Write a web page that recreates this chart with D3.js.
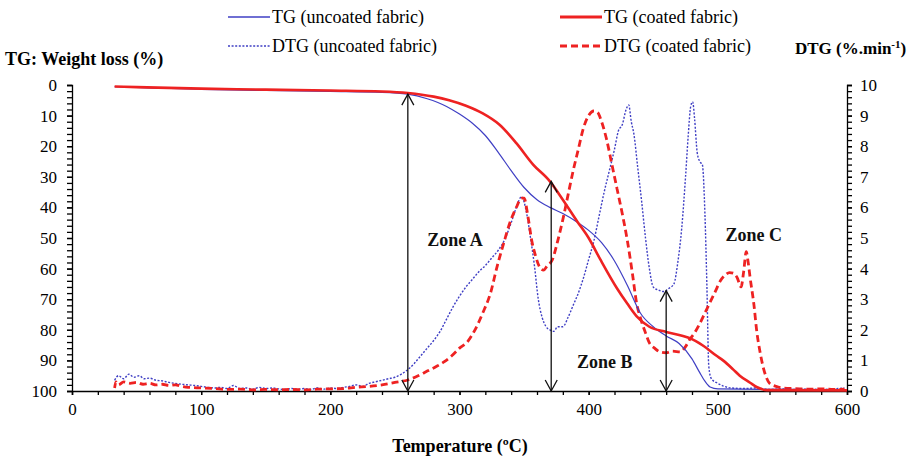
<!DOCTYPE html>
<html><head><meta charset="utf-8">
<script src="https://cdn.jsdelivr.net/npm/d3@7"></script>
<style>
body{margin:0;background:#fff;}
svg{display:block;}
svg text{font-family:"Liberation Serif","Times New Roman",serif;}
</style></head>
<body>
<svg id="chart" width="922" height="458"></svg>
<script>
// ---- data ----
const tgUncoatedT = [33,50,100,150,200,240,260,275,290,300,310,320,330,340,350,360,370,380,390,400,410,420,430,440,450,460,470,480,486,490,494,500,550,600];
const tgUncoatedW = [0.5,0.8,1.4,1.8,2.1,2.4,3.0,4.5,7,9.5,12.5,16.5,22,28,33.5,37.5,40,42,44.5,47.5,51.5,57.5,65.5,74.5,79,82,84.5,89.5,94,96.8,98.7,99.3,99.5,99.6];

const tgCoatedT = [33,50,100,150,200,240,260,280,292,305,318,331,344,357,370,380,391,400,409,422,430,437,447,460,473,478,489,499,504,512,517,525,530,538,600];
const tgCoatedW = [0.5,0.7,1.2,1.5,1.8,2.1,2.6,3.8,5.0,6.8,9.3,13,19,26,31.5,37.5,44.5,50,57,66.5,71.5,75.5,79,80.7,82,82.7,85.3,88.5,90,93,95,97.3,98.7,99.7,99.8];

const dtgUncoatedT = [33,36,40,44,48,52,56,60,65,70,75,80,85,90,95,100,105,110,115,120,125,130,135,140,145,150,155,160,165,170,175,180,185,190,195,200,205,210,215,220,225,230,235,240,245,250,255,260,265,270,275,280,285,290,295,300,305,310,315,320,325,330,335,340,344,348,352,355,358,361,364,367,370,373,376,380,384,388,392,396,400,404,408,412,416,420,423,426,429,431,433,435,438,441,444,447,450,454,458,462,466,469,472,475,477,479,480.5,482,484,486,488,490,491.5,493,495,500,505,510,520,530,540,550,560,570,580,590,598];
const dtgUncoatedD = [0.35,0.5,0.4,0.55,0.45,0.5,0.4,0.42,0.35,0.33,0.28,0.25,0.22,0.2,0.18,0.15,0.12,0.1,0.12,0.08,0.18,0.08,0.1,0.06,0.12,0.08,0.1,0.07,0.05,0.08,0.06,0.08,0.05,0.1,0.06,0.1,0.08,0.12,0.15,0.2,0.15,0.25,0.3,0.35,0.4,0.45,0.55,0.7,0.9,1.15,1.4,1.65,1.95,2.35,2.75,3.1,3.4,3.65,3.9,4.1,4.35,4.6,4.95,5.5,6.0,6.35,5.8,5.0,4.1,3.0,2.4,2.1,2.0,1.95,2.1,2.1,2.4,2.8,3.2,3.7,4.3,4.9,5.7,6.5,7.2,7.9,8.5,8.7,9.2,9.35,8.8,8.4,7.3,6.2,5.0,4.0,3.4,3.3,3.25,3.35,3.5,4.2,5.3,7.0,8.3,9.3,9.45,8.9,7.8,7.5,7.4,5.8,3.5,0.8,0.4,0.25,0.15,0.1,0.08,0.1,0.05,0.07,0.05,0.06,0.05,0.07,0.1];

const dtgCoatedT = [33,34,36,40,45,50,55,60,65,70,75,80,85,90,100,110,120,130,140,150,160,170,180,190,200,210,220,230,240,250,260,268,275,282,288,294,300,306,312,318,324,329,334,339,344,348,350,353,356,359,362,365,368,372,376,380,384,388,392,396,400,404,407,410,414,418,422,426,430,434,437,440,444,447,451,455,460,465,471,475,478,482,486,490,494,498,502,506,509,512,515,518,520,522,523.5,525,528,530,533,535,538,540,545,550,560,570,580,590,598];
const dtgCoatedD = [0.1,0.3,0.2,0.3,0.25,0.28,0.22,0.25,0.2,0.22,0.18,0.2,0.15,0.12,0.1,0.08,0.05,0.06,0.04,0.05,0.04,0.05,0.04,0.06,0.07,0.08,0.12,0.15,0.2,0.28,0.36,0.5,0.65,0.8,0.95,1.15,1.4,1.6,2.0,2.55,3.2,4.05,4.8,5.5,6.0,6.3,6.3,5.7,4.9,4.4,4.05,3.95,4.1,4.3,4.9,5.6,6.4,7.2,7.9,8.6,9.0,9.15,9.1,8.8,8.2,7.4,6.6,5.8,4.9,3.8,2.9,2.4,1.9,1.57,1.4,1.28,1.25,1.3,1.28,1.45,1.67,1.9,2.2,2.55,2.9,3.25,3.6,3.8,3.87,3.85,3.7,3.4,3.9,4.55,4.2,3.7,2.8,2.0,1.2,0.8,0.4,0.25,0.15,0.1,0.08,0.06,0.07,0.05,0.06];

const xTicks = [0,100,200,300,400,500,600];
const leftTicks = [0,10,20,30,40,50,60,70,80,90,100];
const rightTicks = [0,1,2,3,4,5,6,7,8,9,10];

// arrows: temperature, top value on TG scale
const arrowT = [260, 371, 460];
const arrowTopW = [3.0, 31.5, 67.2];

const zoneLabels = ["Zone A","Zone B","Zone C"];
const zoneT = [275, 391, 506];
const zoneW = [50.6, 90.5, 49.0];

const legendLabels = ["TG (uncoated fabric)","TG (coated fabric)","DTG (uncoated fabric)","DTG (coated fabric)"];

// ---- layout ----
const FONT = "Liberation Serif, Times New Roman, serif";
const svg = d3.select("#chart");
const L = 72, R = 847, T = 85, B = 391;
const blue = "#3f3fc4", red = "#ee2222";

const x = d3.scaleLinear().domain([0,600]).range([L,R]);
const yL = d3.scaleLinear().domain([0,100]).range([T,B]);
const yR = d3.scaleLinear().domain([0,10]).range([B,T]);

function styleAxis(g){ g.attr("font-family",FONT).attr("font-size",17); }

svg.append("g").attr("transform",`translate(0,${B})`)
  .call(d3.axisBottom(x).tickValues(d3.range(0,601,20)).tickSize(4).tickFormat(""));
svg.append("g").attr("transform",`translate(0,${B})`)
  .call(d3.axisBottom(x).tickValues(xTicks).tickSize(4).tickPadding(8).tickFormat(d3.format("d")))
  .call(styleAxis).call(g=>g.select(".domain").remove());
svg.append("g").attr("transform",`translate(${L},0)`)
  .call(d3.axisLeft(yL).tickValues(d3.range(0,101,2)).tickSize(5).tickFormat(""));
svg.append("g").attr("transform",`translate(${L},0)`)
  .call(d3.axisLeft(yL).tickValues(leftTicks).tickSize(5).tickPadding(10).tickFormat(d3.format("d")))
  .call(styleAxis).call(g=>g.select(".domain").remove());
svg.append("g").attr("transform",`translate(${R},0)`)
  .call(d3.axisRight(yR).tickValues(d3.range(0,50.5,1).map(v=>v/5)).tickSize(5).tickFormat(""));
svg.append("g").attr("transform",`translate(${R},0)`)
  .call(d3.axisRight(yR).tickValues(rightTicks).tickSize(5).tickPadding(8).tickFormat(d3.format("d")))
  .call(styleAxis).call(g=>g.select(".domain").remove());
svg.selectAll(".tick text").attr("fill","#000");
svg.selectAll(".domain,.tick line").attr("stroke","#000").attr("stroke-width",1.3);

// curves
const lineL = d3.line().x(d=>x(d[0])).y(d=>yL(d[1])).curve(d3.curveMonotoneX);
const lineR = d3.line().x(d=>x(d[0])).y(d=>yR(d[1])).curve(d3.curveMonotoneX);
const zip = (a,b)=>a.map((v,i)=>[v,b[i]]);

svg.append("path").datum(zip(dtgUncoatedT,dtgUncoatedD)).attr("d",lineR)
  .attr("fill","none").attr("stroke",blue).attr("stroke-width",1.4).attr("stroke-dasharray","2,1.6");
svg.append("path").datum(zip(dtgCoatedT,dtgCoatedD)).attr("d",lineR)
  .attr("fill","none").attr("stroke",red).attr("stroke-width",2.8).attr("stroke-dasharray","7,4");
svg.append("path").datum(zip(tgUncoatedT,tgUncoatedW)).attr("d",lineL)
  .attr("fill","none").attr("stroke",blue).attr("stroke-width",1.2);
svg.append("path").datum(zip(tgCoatedT,tgCoatedW)).attr("d",lineL)
  .attr("fill","none").attr("stroke",red).attr("stroke-width",2.6);

// arrows
const ag = svg.append("g").attr("stroke","#111").attr("stroke-width",1.3).attr("fill","none");
arrowT.forEach((t,i)=>{
  const xx = x(t), y1 = yL(arrowTopW[i]), y2 = yL(100);
  ag.append("line").attr("x1",xx).attr("x2",xx).attr("y1",y1).attr("y2",y2);
  ag.append("path").attr("d",`M${xx-6},${y1+11}L${xx},${y1}L${xx+6},${y1+11}`);
  ag.append("path").attr("d",`M${xx-6},${y2-11}L${xx},${y2}L${xx+6},${y2-11}`);
});

// zone labels
zoneLabels.forEach((z,i)=>{
  svg.append("text").attr("x",x(zoneT[i])).attr("y",yL(zoneW[i])).attr("dy","0.35em")
    .attr("font-family",FONT).attr("font-size",18).attr("font-weight","bold").attr("fill","#111").text(z);
});

// axis titles
svg.append("text").attr("x",5).attr("y",65).attr("font-family",FONT).attr("font-size",18).attr("font-weight","bold").text("TG: Weight loss (%)");
const rt = svg.append("text").attr("x",795).attr("y",54).attr("font-family",FONT).attr("font-size",17).attr("font-weight","bold");
rt.append("tspan").text("DTG (%.min");
rt.append("tspan").attr("dy",-6).attr("font-size",11).text("-1");
rt.append("tspan").attr("dy",6).text(")");
svg.append("text").attr("x",460).attr("y",452).attr("text-anchor","middle").attr("font-family",FONT).attr("font-size",18).attr("font-weight","bold").text("Temperature (ºC)");

// legend
const legX = [228,560,228,560], legY=[17,17,46,46];
const legStyles = [
  {c:blue,w:1.4,d:null},{c:red,w:2.8,d:null},{c:blue,w:1.4,d:"2,1.6"},{c:red,w:2.8,d:"7,4"}];
legendLabels.forEach((lab,i)=>{
  svg.append("line").attr("x1",legX[i]).attr("x2",legX[i]+42).attr("y1",legY[i]).attr("y2",legY[i])
    .attr("stroke",legStyles[i].c).attr("stroke-width",legStyles[i].w).attr("stroke-dasharray",legStyles[i].d);
  svg.append("text").attr("x",legX[i]+44).attr("y",legY[i]).attr("dy","0.35em")
    .attr("font-family",FONT).attr("font-size",18).text(lab);
});
</script>
</body></html>
